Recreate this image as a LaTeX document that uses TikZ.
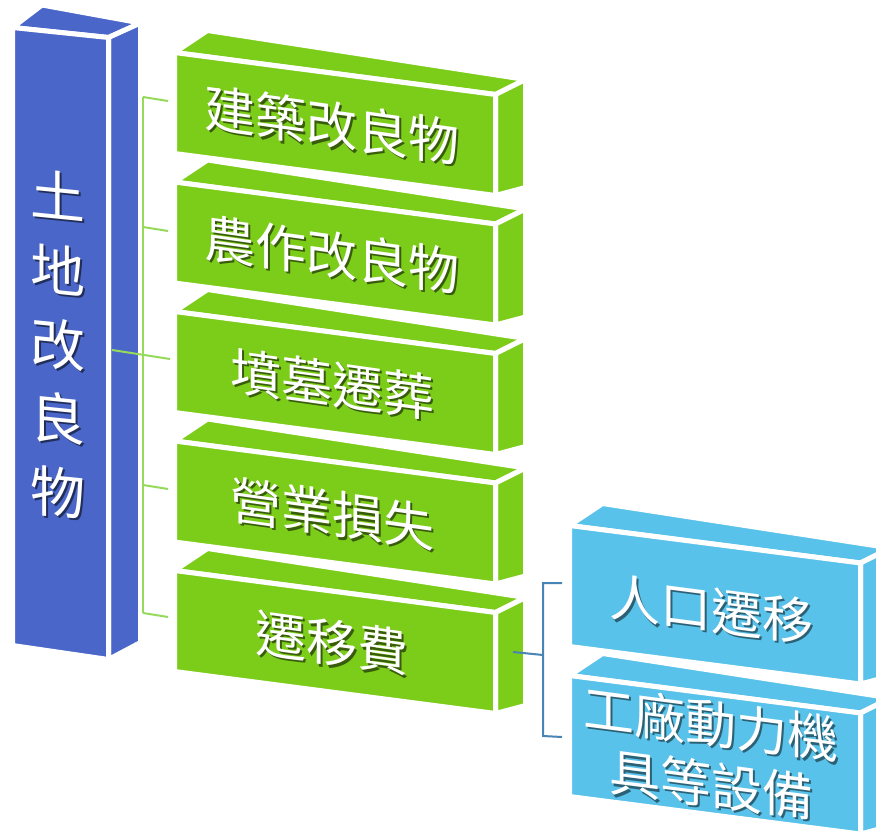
\documentclass[tikz,border=0pt]{standalone}
\usepackage{fontspec}
\newfontfamily\cjk{Noto Sans CJK TC}
\usetikzlibrary{calc}
\definecolor{barblue}{RGB}{74,102,200}
\definecolor{boxgreen}{RGB}{124,205,26}
\definecolor{boxcyan}{RGB}{88,194,234}
\definecolor{linegreen}{RGB}{150,218,90}
\definecolor{linesteel}{RGB}{72,132,180}
\newcommand\shd[2]{\rlap{\kern2pt\raisebox{-2pt}{\color{#1}#2}}#2}
% #1 name, #2 colour, #3 x, #4 y, #5 width, #6 drop, #7 height
\newcommand\prbox[7]{%
  \coordinate (#1-tl) at (#3,#4);
  \coordinate (#1-tr) at ($(#1-tl)+(#5,#6)$);
  \coordinate (#1-br) at ($(#1-tr)+(0,#7)$);
  \coordinate (#1-bl) at ($(#1-tl)+(0,#7)$);
  \filldraw[face,fill=#2] (#1-tl) -- ($(#1-tl)+(33,-22)$) -- ($(#1-tr)+(30,-15)$) -- (#1-tr) -- cycle;
  \filldraw[face,fill=#2] (#1-tr) -- ($(#1-tr)+(30,-15)$) -- ($(#1-br)+(30,-8)$) -- (#1-br) -- cycle;
  \filldraw[face,fill=#2] (#1-tl) -- (#1-tr) -- (#1-br) -- (#1-bl) -- cycle;
}
\begin{document}
\begin{tikzpicture}[x=1pt,y=-1pt,
  face/.style={draw=white,line width=5pt,line join=round},
  gtext/.style={text=white,font=\cjk\fontsize{51}{61}\selectfont,yslant=-0.14,inner sep=0pt},
  ctext/.style={text=white,font=\cjk\fontsize{51}{61}\selectfont,yslant=-0.13,inner sep=0pt,align=center},
  btext/.style={text=white,font=\cjk\fontsize{55}{74}\selectfont,yslant=-0.1,inner sep=0pt,align=center},
  gline/.style={draw=linegreen,line width=2pt},
  sline/.style={draw=linesteel,line width=2pt}]
\fill[white] (0,0) rectangle (876,837);
\useasboundingbox (0,0) rectangle (876,837);

% blue bar
\filldraw[face,fill=barblue] (12.5,27.5) -- (42,5) -- (140.5,23) -- (108.5,37.5) -- cycle;
\filldraw[face,fill=barblue] (108.5,37.5) -- (140.5,23) -- (140.5,642.5) -- (108.5,659.5) -- cycle;
\filldraw[face,fill=barblue] (12.5,27.5) -- (108.5,37.5) -- (108.5,659.5) -- (12.5,645.5) -- cycle;
\node[btext] (bar) at (58,345) {\shd{black!55!barblue}{土}\\\shd{black!55!barblue}{地}\\\shd{black!55!barblue}{改}\\\shd{black!55!barblue}{良}\\\shd{black!55!barblue}{物}};

% green boxes
\prbox{g1}{boxgreen}{174.5}{52.5}{321}{42}{101}
\prbox{g2}{boxgreen}{174.5}{182}{321}{42}{101}
\prbox{g3}{boxgreen}{174.5}{311.5}{321}{42}{101}
\prbox{g4}{boxgreen}{174.5}{441}{321}{42}{101}
\prbox{g5}{boxgreen}{174.5}{570.5}{321}{42}{101}
\node[gtext] (t1) at ($(g1-tl)!0.5!(g1-br)+(-3,2)$) {\shd{black!55!boxgreen}{建築改良物}};
\node[gtext] (t2) at ($(g2-tl)!0.5!(g2-br)+(-3,2)$) {\shd{black!55!boxgreen}{農作改良物}};
\node[gtext] (t3) at ($(g3-tl)!0.5!(g3-br)+(-3,2)$) {\shd{black!55!boxgreen}{墳墓遷葬}};
\node[gtext] (t4) at ($(g4-tl)!0.5!(g4-br)+(-3,2)$) {\shd{black!55!boxgreen}{營業損失}};
\node[gtext] (t5) at ($(g5-tl)!0.5!(g5-br)+(-3,2)$) {\shd{black!55!boxgreen}{遷移費}};

% cyan boxes
\prbox{c1}{boxcyan}{569.5}{525.5}{291}{37.5}{121}
\prbox{c2}{boxcyan}{569.5}{675.5}{291}{37.5}{121}
\node[ctext] (u1) at ($(c1-tl)!0.5!(c1-br)+(-4,6)$) {\shd{black!50!boxcyan}{人口遷移}};
\node[ctext] (u2) at ($(c2-tl)!0.5!(c2-br)+(-4,0)$) {\shd{black!50!boxcyan}{工廠動力機}\\\shd{black!50!boxcyan}{具等設備}};

% green connectors
\coordinate (trunk-top) at (143,97);
\coordinate (trunk-2) at (143,227);
\coordinate (trunk-4) at (143,485);
\coordinate (trunk-bot) at (143,613);
\coordinate (bar-out) at (112,350);
\coordinate (g1-in) at (168,101);
\coordinate (g2-in) at (168,231);
\coordinate (g3-in) at (170,359);
\coordinate (g4-in) at (168,489);
\coordinate (g5-in) at (168,617);
\draw[gline] (trunk-top) -- (trunk-bot);
\draw[gline] (trunk-top) -- (g1-in);
\draw[gline] (trunk-2) -- (g2-in);
\draw[gline] (bar-out) -- (g3-in);
\draw[gline] (trunk-4) -- (g4-in);
\draw[gline] (trunk-bot) -- (g5-in);

% steel-blue bracket
\coordinate (g5-out) at (513,652);
\coordinate (br-mid) at (543,655);
\coordinate (br-top) at (543,583);
\coordinate (br-bot) at (543,736);
\coordinate (c1-in) at (562,583);
\coordinate (c2-in) at (562,737);
\draw[sline] (g5-out) -- (br-mid);
\draw[sline] (c1-in) -- (br-top) -- (br-bot) -- (c2-in);
\end{tikzpicture}
\end{document}
